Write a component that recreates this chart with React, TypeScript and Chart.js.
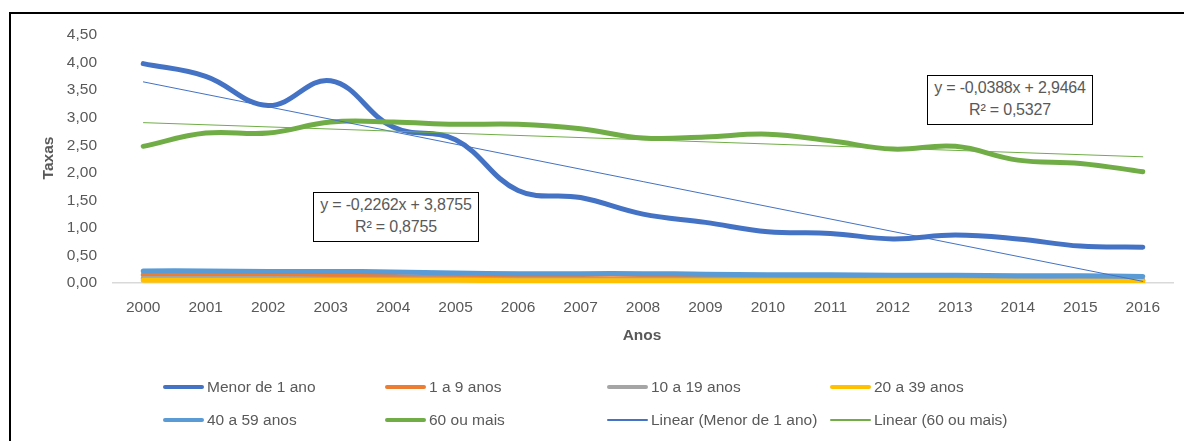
import React, { useEffect, useRef } from "react";
import { Chart, registerables } from "chart.js";

Chart.register(...registerables);

const YEARS = ["2000","2001","2002","2003","2004","2005","2006","2007","2008","2009","2010","2011","2012","2013","2014","2015","2016"];
const MENOR_1 = [3.98, 3.75, 3.22, 3.67, 2.83, 2.6, 1.68, 1.55, 1.25, 1.1, 0.93, 0.9, 0.8, 0.87, 0.8, 0.67, 0.65];
const A_1_9 = [0.15, 0.14, 0.13, 0.13, 0.12, 0.1, 0.09, 0.08, 0.08, 0.08, 0.07, 0.07, 0.06, 0.06, 0.06, 0.05, 0.05];
const A_10_19 = [0.08, 0.08, 0.08, 0.07, 0.07, 0.07, 0.06, 0.06, 0.06, 0.06, 0.06, 0.05, 0.05, 0.05, 0.05, 0.05, 0.05];
const A_20_39 = [0.05, 0.05, 0.05, 0.05, 0.05, 0.05, 0.04, 0.04, 0.04, 0.04, 0.04, 0.04, 0.04, 0.04, 0.03, 0.03, 0.03];
const A_40_59 = [0.22, 0.22, 0.21, 0.21, 0.2, 0.18, 0.17, 0.17, 0.17, 0.16, 0.15, 0.15, 0.14, 0.14, 0.13, 0.13, 0.12];
const A_60_MAIS = [2.48, 2.72, 2.72, 2.92, 2.92, 2.88, 2.88, 2.8, 2.63, 2.65, 2.7, 2.58, 2.43, 2.48, 2.23, 2.17, 2.02];
// trend line end points (first and last year), other years empty
const TREND_MENOR = [3.65, null, null, null, null, null, null, null, null, null, null, null, null, null, null, null, 0.03];
const TREND_60 = [2.91, null, null, null, null, null, null, null, null, null, null, null, null, null, null, null, 2.29];
const Y_TICKS = [0, 0.5, 1, 1.5, 2, 2.5, 3, 3.5, 4, 4.5];

const FONT = "'Liberation Sans', Arial, sans-serif";
const TXT = "#595959";

const SERIES = [
  { label: "Menor de 1 ano", data: MENOR_1, color: "#4472C4", w: 5, order: 10 },
  { label: "1 a 9 anos", data: A_1_9, color: "#ED7D31", w: 5, order: 9 },
  { label: "10 a 19 anos", data: A_10_19, color: "#A5A5A5", w: 5, order: 8 },
  { label: "20 a 39 anos", data: A_20_39, color: "#FFC000", w: 5, order: 7 },
  { label: "40 a 59 anos", data: A_40_59, color: "#5B9BD5", w: 5, order: 6 },
  { label: "60 ou mais", data: A_60_MAIS, color: "#70AD47", w: 5, order: 5 },
  { label: "Linear (Menor de 1 ano)", data: TREND_MENOR, color: "#4472C4", w: 1, order: 1, trend: true },
  { label: "Linear (60 ou mais)", data: TREND_60, color: "#70AD47", w: 1, order: 0, trend: true },
];

const LEGEND_COLS = [163, 385, 607, 830];
const LEGEND_ROWS = [387, 420];

export default function App() {
  const ref = useRef<HTMLCanvasElement>(null);
  useEffect(() => {
    const chart = new Chart(ref.current!, {
      type: "line",
      data: {
        labels: YEARS,
        datasets: SERIES.map((s) => ({
          label: s.label,
          data: s.data,
          borderColor: s.color,
          backgroundColor: s.color,
          borderWidth: s.w,
          borderCapStyle: "round",
          borderJoinStyle: "round",
          pointRadius: 0,
          pointHoverRadius: 0,
          tension: s.trend ? 0 : 0.4,
          spanGaps: true,
          fill: false,
          order: s.order,
        })) as any,
      },
      options: {
        animation: false,
        responsive: false,
        maintainAspectRatio: false,
        layout: { padding: { left: 0, right: 10, top: 35, bottom: 0 } },
        plugins: { legend: { display: false }, tooltip: { enabled: false } },
        scales: {
          x: {
            offset: true,
            grid: { display: false, drawTicks: false },
            border: { display: false },
            ticks: { color: TXT, font: { family: FONT, size: 15.5 }, padding: 15, maxRotation: 0, autoSkip: false },
            afterFit: (s: any) => { s.height = 158; },
          },
          y: {
            min: 0,
            max: 4.5,
            afterBuildTicks: (s: any) => { s.ticks = Y_TICKS.map((v) => ({ value: v })); },
            grid: {
              drawTicks: false,
              color: (c: any) => (c.tick && c.tick.value === 0 ? "#D9D9D9" : "rgba(0,0,0,0)"),
              lineWidth: 1.5,
            },
            border: { display: false },
            ticks: {
              color: TXT,
              font: { family: FONT, size: 15.5 },
              padding: 15,
              callback: (v: any) => Number(v).toFixed(2).replace(".", ","),
            },
            afterFit: (s: any) => { s.width = 112; },
          },
        },
      },
    });
    return () => chart.destroy();
  }, []);

  const boxStyle: React.CSSProperties = {
    position: "absolute",
    background: "#fff",
    border: "1.5px solid #000",
    color: TXT,
    fontFamily: FONT,
    fontSize: 16,
    lineHeight: "22px",
    textAlign: "center",
    boxSizing: "border-box",
    paddingTop: 1,
    whiteSpace: "nowrap",
    letterSpacing: -0.2,
  };

  return (
    <div style={{ position: "fixed", left: 0, top: 0, width: 1184, height: 441, overflow: "hidden", fontFamily: FONT, background: "#fff" }}>
      <div style={{ position: "absolute", left: 9, top: 12, width: 1175, height: 429, borderTop: "2px solid #000", borderLeft: "2px solid #000", boxSizing: "border-box" }} />
      <canvas ref={ref} width={1184} height={441} style={{ position: "absolute", left: 0, top: 0, width: 1184, height: 441 }} />
      <div style={{ position: "absolute", left: 48 - 35, top: 158 - 10, width: 70, height: 20, transform: "rotate(-90deg)", textAlign: "center", fontWeight: "bold", fontSize: 15.5, color: TXT, lineHeight: "20px" }}>Taxas</div>
      <div style={{ position: "absolute", left: 642 - 35, top: 335 - 10, width: 70, height: 20, textAlign: "center", fontWeight: "bold", fontSize: 15.5, color: TXT, lineHeight: "20px" }}>Anos</div>
      <div style={{ ...boxStyle, left: 313, top: 192, width: 166, height: 50 }}>
        y = -0,2262x + 3,8755<br />R² = 0,8755
      </div>
      <div style={{ ...boxStyle, left: 927, top: 75, width: 166, height: 50 }}>
        y = -0,0388x + 2,9464<br />R² = 0,5327
      </div>
      {SERIES.map((s, i) => {
        const col = i % 4;
        const row = Math.floor(i / 4);
        const cx = LEGEND_COLS[col];
        const cy = LEGEND_ROWS[row];
        return (
          <div key={s.label} style={{ position: "absolute", left: cx, top: cy - 11, height: 22, display: "flex", alignItems: "center", whiteSpace: "nowrap" }}>
            <div style={{ width: 41, height: s.trend ? 1.2 : 4.5, background: s.color, borderRadius: 3 }} />
            <span style={{ marginLeft: 3, fontSize: 15.5, color: TXT, lineHeight: "22px" }}>{s.label}</span>
          </div>
        );
      })}
    </div>
  );
}
